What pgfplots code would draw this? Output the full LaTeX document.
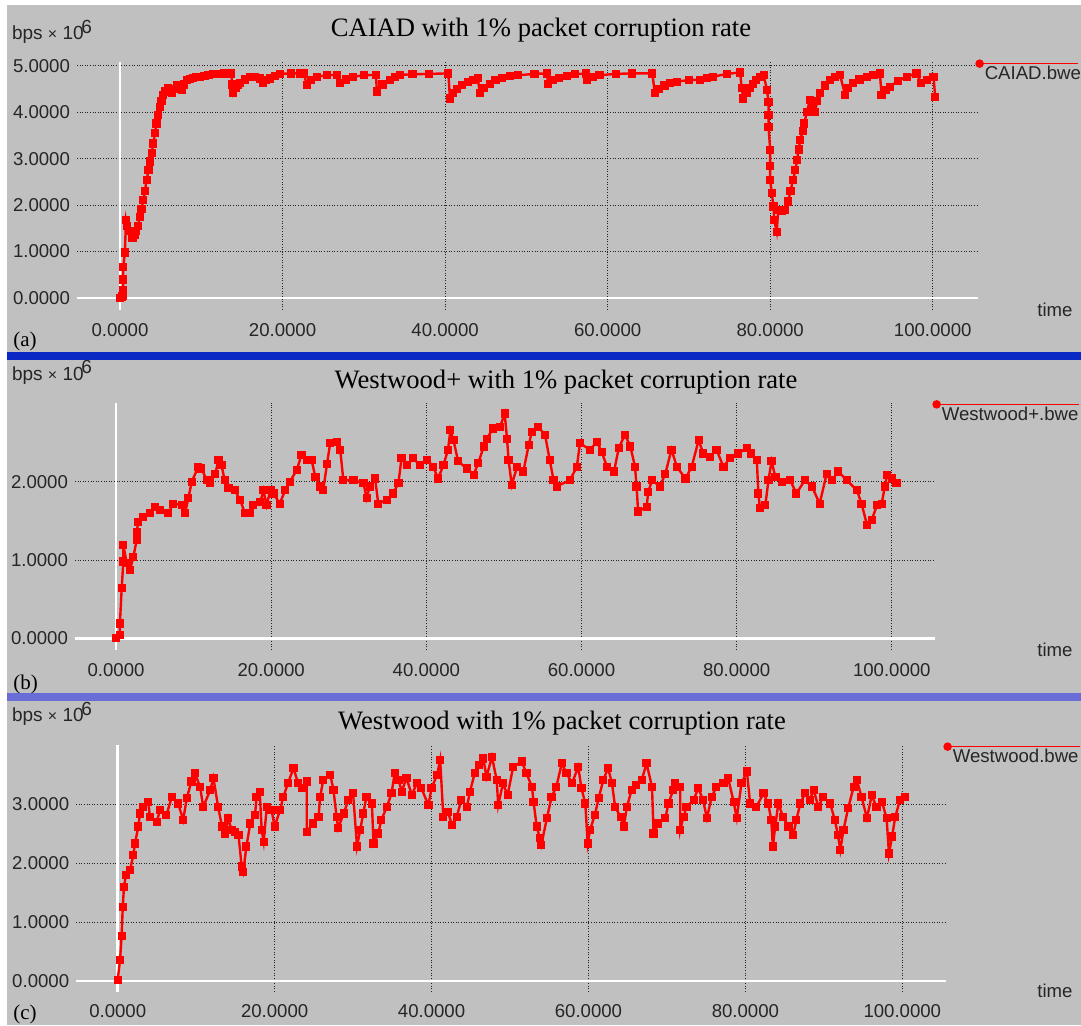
\documentclass[border=0pt]{standalone}
\usepackage{pgfplots}
\pgfplotsset{compat=1.18}
\usepackage{fontspec}
\setmainfont{Liberation Serif}
\newfontfamily\sansf{Liberation Sans}
\definecolor{bg}{RGB}{192,192,192}
\definecolor{sepA}{RGB}{10,40,195}
\definecolor{sepB}{RGB}{105,110,215}
\definecolor{gridc}{RGB}{35,35,35}
\newcommand{\sfn}{\sansf\fontsize{9.3}{11}\selectfont}
\newcommand{\ttl}{\fontsize{13.3}{15}\selectfont}
\newcommand{\bps}{\sansf\fontsize{9.5}{11}\selectfont bps {\fontsize{8}{9}\selectfont×} 10\kern-1.2pt\raisebox{3.2pt}{6}}

\pgfplotsset{
  panel/.style={
    scale only axis,
    axis line style={draw=none},
    major tick length=0pt,
    grid=major,
    major grid style={gridc, line width=0.5pt, dash pattern=on 0.5pt off 0.8pt},
    xmin=-5.29, xmax=105.57,
    xtick={0,20,40,60,80,100},
    xticklabels={0.0000,20.0000,40.0000,60.0000,80.0000,100.0000},
    tick label style={font=\sfn, text=black!85},
    xticklabel style={yshift=-3pt},
    legend style={at={(1,1)}, anchor=north west, draw=none, fill=none,
      inner sep=0pt, font=\sfn, text=black!85, cells={anchor=west}},
  },
  dat/.style={red, line width=1.2pt, mark=square*, mark size=1.45pt, mark options={solid}},
}

\begin{document}
\begin{tikzpicture}
\useasboundingbox (0,0) rectangle (540.5pt,512.5pt);
\fill[white] (0,0) rectangle (540.5pt,512.5pt);
\fill[bg] (3.5pt,0) rectangle (540.5pt,510pt);
\fill[sepA] (3.5pt,332.5pt) rectangle (540.5pt,336.5pt);
\fill[sepB] (3.5pt,161.8pt) rectangle (540.5pt,165.8pt);

% ---------------- panel (a) ----------------
\begin{axis}[panel, at={(38.5pt,357.5pt)}, anchor=south west,
  width=450.5pt, height=124pt, ymin=-0.259, ymax=5.086,
  ytick={0,1,2,3,4,5},
  yticklabels={0.0000,1.0000,2.0000,3.0000,4.0000,5.0000},
  legend image code/.code={%
    \draw[overlay, red, line width=0.8pt] (0pt,5.5pt) -- (49pt,5.5pt);
    \fill[overlay, red] (0pt,5.5pt) circle (1.5pt);
    \path (0pt,0pt);}]
\draw[white, line width=1.3pt] (axis cs:-5.29,0) -- (axis cs:105.57,0);
\draw[white, line width=1.3pt] (axis cs:0,-0.259) -- (axis cs:0,5.086);
\addplot[dat] coordinates {
(0,0) (0.2,0.03) (0.3,0.05) (0.4,0.17) (0.4,0.4) (0.4,0.66) (0.6,0.98) (0.74,1.68) (0.9,1.55)
(1.1,1.45) (1.44,1.29) (1.6,1.3) (1.85,1.36) (2.0,1.45) (2.2,1.55) (2.46,1.75) (2.65,1.92)
(2.87,2.11) (3.05,2.3) (3.28,2.54) (3.5,2.75) (3.69,2.94) (3.9,3.12) (4.1,3.33) (4.3,3.55)
(4.5,3.76) (4.7,3.95) (4.92,4.12) (5.1,4.25) (5.33,4.38) (5.6,4.46) (5.95,4.52) (6.2,4.45)
(6.36,4.41) (6.6,4.5) (6.98,4.59) (7.3,4.52) (7.6,4.48) (7.9,4.6) (8.2,4.7) (8.6,4.72)
(9.0,4.74) (9.4,4.76) (9.84,4.77) (10.4,4.79) (10.9,4.8) (11.4,4.82) (11.9,4.83) (12.8,4.84)
(13.7,4.84) (13.8,4.6) (13.9,4.41) (14.2,4.52) (14.5,4.59) (14.8,4.63) (15.4,4.71) (16,4.77)
(16.6,4.76) (17.2,4.73) (17.6,4.64) (18.0,4.69) (18.5,4.73) (19.1,4.79) (19.7,4.83) (21,4.84)
(22.1,4.84) (22.6,4.84) (23,4.59) (23.5,4.69) (24.2,4.77) (25.5,4.8) (26.7,4.81) (27.1,4.63)
(27.8,4.71) (28.7,4.77) (30,4.8) (31.5,4.81) (31.6,4.45) (32.3,4.6) (33.2,4.7) (33.8,4.77)
(34.5,4.81) (36,4.82) (38,4.83) (40.4,4.84) (40.6,4.3) (41,4.42) (41.5,4.5) (42.1,4.59)
(42.8,4.65) (43.4,4.7) (44.0,4.74) (44.3,4.42) (44.8,4.53) (45.5,4.62) (46.2,4.69) (47,4.74)
(48,4.78) (49,4.8) (51,4.83) (52.5,4.84) (52.7,4.62) (53.3,4.69) (54,4.74) (55,4.79)
(56,4.82) (57.3,4.84) (57.5,4.7) (58.2,4.76) (59,4.8) (61,4.83) (63,4.84) (65.5,4.84)
(65.8,4.42) (66.3,4.51) (67,4.58) (67.7,4.63) (68.5,4.66) (70,4.7) (71.4,4.7) (72.2,4.74)
(73,4.77) (74.7,4.83) (76.3,4.86) (76.5,4.52) (76.7,4.3) (77.1,4.43) (77.5,4.52) (77.9,4.62)
(78.3,4.7) (78.7,4.76) (79.2,4.81) (79.6,4.48) (79.8,4.23) (79.8,3.95) (79.8,3.69) (80,3.19)
(80,2.85) (80,2.54) (80.2,2.26) (80.4,1.97) (80.5,1.68) (80.8,1.43) (81,1.9) (81.4,1.88)
(81.8,1.9) (82.2,2.08) (82.5,2.3) (82.8,2.54) (83.1,2.75) (83.3,2.97) (83.5,3.2) (83.7,3.41)
(84.0,3.6) (84.2,3.76) (84.5,4.01) (84.9,4.27) (85.2,4.1) (85.5,4.01) (85.8,4.25) (86.1,4.41)
(86.7,4.58) (87.4,4.7) (88,4.77) (88.6,4.81) (89.2,4.38) (89.6,4.52) (90.2,4.63) (91,4.71)
(91.9,4.77) (92.7,4.81) (93.5,4.84) (93.7,4.38) (94.2,4.48) (94.7,4.55) (95.7,4.68)
(96.8,4.77) (98,4.84) (98.6,4.63) (99.3,4.7) (100.1,4.77) (100.3,4.34)
};
\addlegendentry{CAIAD.bwe}
\end{axis}

% ---------------- panel (b) ----------------
\begin{axis}[panel, at={(37.5pt,187.5pt)}, anchor=south west,
  width=430pt, height=123.65pt, ymin=-0.149, ymax=3.009,
  ytick={0,1,2},
  yticklabels={0.0000,1.0000,2.0000},
  legend image code/.code={%
    \draw[overlay, red, line width=0.8pt] (0pt,5.5pt) -- (71pt,5.5pt);
    \fill[overlay, red] (0pt,5.5pt) circle (1.5pt);
    \path (0pt,0pt);}]
\draw[white, line width=1.3pt] (axis cs:-5.29,0) -- (axis cs:105.57,0);
\draw[white, line width=1.3pt] (axis cs:0,-0.149) -- (axis cs:0,3.009);
\addplot[dat] coordinates {
(0,0) (0.5,0.04) (0.5,0.19) (0.73,0.64) (0.94,0.98) (0.94,1.19) (1.38,0.96) (1.8,0.87)
(2.23,1.04) (2.67,1.26) (2.67,1.36) (2.87,1.49) (3.52,1.55) (4.38,1.6) (5.03,1.68)
(5.67,1.64) (6.74,1.6) (7.39,1.72) (8.47,1.7) (8.9,1.6) (9.32,1.79) (9.76,2.0) (10.6,2.19)
(11,2.17) (11.7,2.02) (12.1,1.98) (12.8,2.1) (13.2,2.28) (13.6,2.21) (14,2.02) (14.5,1.92)
(15.3,1.89) (16,1.77) (16.6,1.6) (17.3,1.6) (17.7,1.7) (18.6,1.74) (19,1.89) (19.4,1.7)
(19.9,1.89) (20.3,1.85) (21.1,1.72) (21.8,1.89) (22.4,2.0) (23.3,2.15) (23.9,2.34)
(24.6,2.28) (25.2,2.28) (25.7,2.06) (26.3,1.94) (26.7,1.89) (27.2,2.23) (27.6,2.49)
(28.5,2.51) (28.9,2.41) (29.3,2.02) (30.6,2.02) (31.9,1.98) (32.3,1.79) (32.7,1.94)
(33.4,2.04) (33.8,1.72) (34.9,1.77) (35.7,1.85) (36.4,1.98) (36.8,2.3) (37.5,2.21)
(38.3,2.3) (39.2,2.21) (40.1,2.28) (40.9,2.19) (41.5,2.04) (42.2,2.21) (42.8,2.41)
(43.1,2.66) (43.5,2.53) (44.1,2.26) (45.2,2.17) (46.1,2.09) (46.7,2.24) (47.4,2.45)
(47.8,2.55) (48.6,2.68) (49.5,2.7) (50.1,2.87) (50.4,2.55) (50.6,2.28) (51,1.96)
(51.7,2.19) (52.5,2.13) (53.2,2.47) (53.6,2.64) (54.4,2.7) (55.3,2.6) (55.9,2.28)
(56.4,2.02) (56.8,1.94) (58.5,2.02) (59.4,2.19) (59.8,2.49) (61.1,2.41) (62,2.51)
(62.6,2.38) (63.3,2.19) (64.2,2.13) (64.8,2.43) (65.6,2.6) (66.3,2.45) (66.9,2.19)
(67.1,1.94) (67.3,1.62) (68.4,1.68) (68.6,1.87) (69.1,2.02) (70.1,1.94) (70.8,2.1)
(71.6,2.41) (72.3,2.19) (73.4,2.04) (74.2,2.19) (75.1,2.53) (75.7,2.36) (76.6,2.32)
(77.4,2.41) (78.3,2.19) (79.1,2.3) (80.2,2.36) (81.3,2.43) (81.9,2.36) (82.6,2.28)
(82.8,1.85) (83,1.66) (83.7,1.7) (84.1,2.02) (84.5,2.26) (85,2.06) (85.8,2.0) (86.9,2.02)
(87.7,1.85) (88.8,2.02) (89.7,1.94) (90.7,1.72) (91.6,2.1) (92.3,2.02) (93.1,2.13)
(94.2,2.02) (95.5,1.89) (96.1,1.72) (96.8,1.45) (97.4,1.51) (98.1,1.7) (98.7,1.72)
(99.1,1.94) (99.4,2.09) (100,2.04) (100.6,1.98)
};
\addlegendentry{Westwood+.bwe}
\end{axis}

% ---------------- panel (c) ----------------
\begin{axis}[panel, at={(38.1pt,16.65pt)}, anchor=south west,
  width=434.9pt, height=123.35pt, ymin=-0.181, ymax=4.0,
  ytick={0,1,2,3},
  yticklabels={0.0000,1.0000,2.0000,3.0000},
  legend image code/.code={%
    \draw[overlay, red, line width=0.8pt] (0pt,5.5pt) -- (66pt,5.5pt);
    \fill[overlay, red] (0pt,5.5pt) circle (1.5pt);
    \path (0pt,0pt);}]
\draw[white, line width=1.3pt] (axis cs:-5.29,0) -- (axis cs:105.57,0);
\draw[white, line width=1.3pt] (axis cs:0,-0.181) -- (axis cs:0,4.0);
\addplot[dat] coordinates {
(0,0.02) (0.3,0.36) (0.5,0.76) (0.64,1.25) (0.8,1.6) (1.06,1.8) (1.57,1.88) (2,2.14)
(2.2,2.33) (2.63,2.62) (2.84,2.84) (3.26,2.95) (3.9,3.04) (4.1,2.78) (4.97,2.7) (5.4,2.9)
(6.2,2.81) (6.9,3.12) (7.7,3.01) (8.35,2.73) (8.8,3.1) (9.4,3.38) (9.85,3.52) (10.5,3.29)
(10.9,2.95) (11.8,3.24) (12.2,3.44) (12.8,2.95) (13.3,2.62) (13.7,2.5) (14.1,2.76)
(14.5,2.56) (15,2.53) (15.4,2.47) (15.8,1.94) (16,1.85) (16.4,2.28) (16.9,2.67) (17.5,2.81)
(17.7,3.12) (18.1,3.21) (18.35,2.56) (18.6,2.36) (19,2.95) (19.6,2.9) (20,2.62) (20.7,2.9)
(21.1,3.12) (21.7,3.35) (22.4,3.61) (23,3.35) (23.5,3.27) (24.1,3.38) (24.1,2.53)
(24.9,2.67) (25.6,2.78) (25.8,3.12) (26.2,3.41) (27.1,3.49) (27.5,3.24) (27.9,2.78)
(28.1,2.59) (28.8,2.84) (29.4,3.07) (30,3.18) (30.5,2.28) (30.9,2.56) (31.3,2.84)
(31.7,3.12) (32.4,3.01) (32.6,2.33) (33.2,2.5) (33.6,2.73) (34.3,2.95) (34.9,3.18)
(35.3,3.52) (35.8,3.41) (36.2,3.21) (36.8,3.44) (37.5,3.15) (38.1,3.35) (38.7,3.27)
(39.6,2.98) (40,3.27) (40.7,3.49) (41.1,3.75) (41.5,2.78) (42.1,2.87) (42.6,2.64)
(43.2,2.78) (43.8,3.07) (44.5,2.95) (44.9,3.21) (45.5,3.52) (46,3.66) (46.6,3.77) (47,3.46)
(47.7,3.8) (48.3,3.41) (48.5,2.98) (49.1,3.35) (49.7,3.15) (50.4,3.63) (51.5,3.72)
(52.1,3.52) (52.8,3.29) (53,3.04) (53.4,2.62) (53.8,2.42) (54,2.31) (54.7,2.76) (55.3,3.12)
(55.9,3.29) (56.6,3.69) (57.2,3.52) (57.9,3.35) (58.7,3.63) (59.1,3.27) (59.6,3.01)
(59.9,2.33) (60.2,2.56) (60.8,2.81) (61.3,3.1) (61.9,3.41) (62.5,3.61) (63,3.35) (63.4,2.95)
(64.1,2.78) (64.5,2.62) (64.9,2.95) (65.5,3.24) (66.1,3.32) (66.8,3.41) (67.4,3.69)
(68.1,3.29) (68.3,2.5) (68.9,2.67) (69.8,2.76) (70.2,3.01) (70.8,3.24) (71,3.35) (71.7,3.29)
(71.7,2.56) (72.1,2.78) (72.5,2.95) (73.4,3.07) (74,3.27) (74.6,3.07) (75.1,2.76)
(75.7,3.12) (76.3,3.29) (77.2,3.35) (77.8,3.44) (78.5,3.04) (78.9,2.76) (79.5,3.35)
(80.2,3.55) (80.6,3.01) (81.4,2.95) (82.3,3.18) (82.9,3.01) (83.3,2.73) (83.5,2.28)
(83.8,2.62) (84.2,3.01) (84.8,2.78) (85.5,2.62) (86.1,2.47) (86.5,2.73) (87,3.01)
(87.6,3.18) (88.2,3.07) (88.7,3.24) (89.3,2.95) (89.9,3.12) (90.8,3.01) (91.4,2.73)
(91.8,2.47) (92.1,2.22) (92.5,2.56) (93.1,2.93) (93.8,3.29) (94.2,3.41) (94.8,3.12)
(95.5,2.76) (96.1,3.15) (96.7,2.95) (97.4,3.04) (98,2.76) (98.3,2.16) (98.7,2.45)
(99.1,2.78) (99.7,3.07) (100.3,3.12)
};
\addlegendentry{Westwood.bwe}
\end{axis}

% ---------------- texts ----------------
\node[anchor=base, font=\ttl] at (270.5pt,494.2pt) {CAIAD with 1\% packet corruption rate};
\node[anchor=base, font=\ttl] at (283pt,318.5pt) {Westwood+ with 1\% packet corruption rate};
\node[anchor=base, font=\ttl] at (281pt,147.8pt) {Westwood with 1\% packet corruption rate};

\node[anchor=base west, inner sep=0pt, text=black!85] at (5.8pt,492.5pt) {\bps};
\node[anchor=base west, inner sep=0pt, text=black!85] at (5.8pt,322.5pt) {\bps};
\node[anchor=base west, inner sep=0pt, text=black!85] at (5.8pt,151.7pt) {\bps};

\node[anchor=base west, inner sep=0pt, font=\sfn, text=black!85] at (518.5pt,354.5pt) {time};
\node[anchor=base west, inner sep=0pt, font=\sfn, text=black!85] at (518.5pt,184.5pt) {time};
\node[anchor=base west, inner sep=0pt, font=\sfn, text=black!85] at (518.5pt,14pt) {time};

\node[anchor=base west, inner sep=0pt, font=\fontsize{10.5}{12}\selectfont] at (6.5pt,339.2pt) {(a)};
\node[anchor=base west, inner sep=0pt, font=\fontsize{10.5}{12}\selectfont] at (6.5pt,167.8pt) {(b)};
\node[anchor=base west, inner sep=0pt, font=\fontsize{10.5}{12}\selectfont] at (6.5pt,2.6pt) {(c)};
\end{tikzpicture}
\end{document}
